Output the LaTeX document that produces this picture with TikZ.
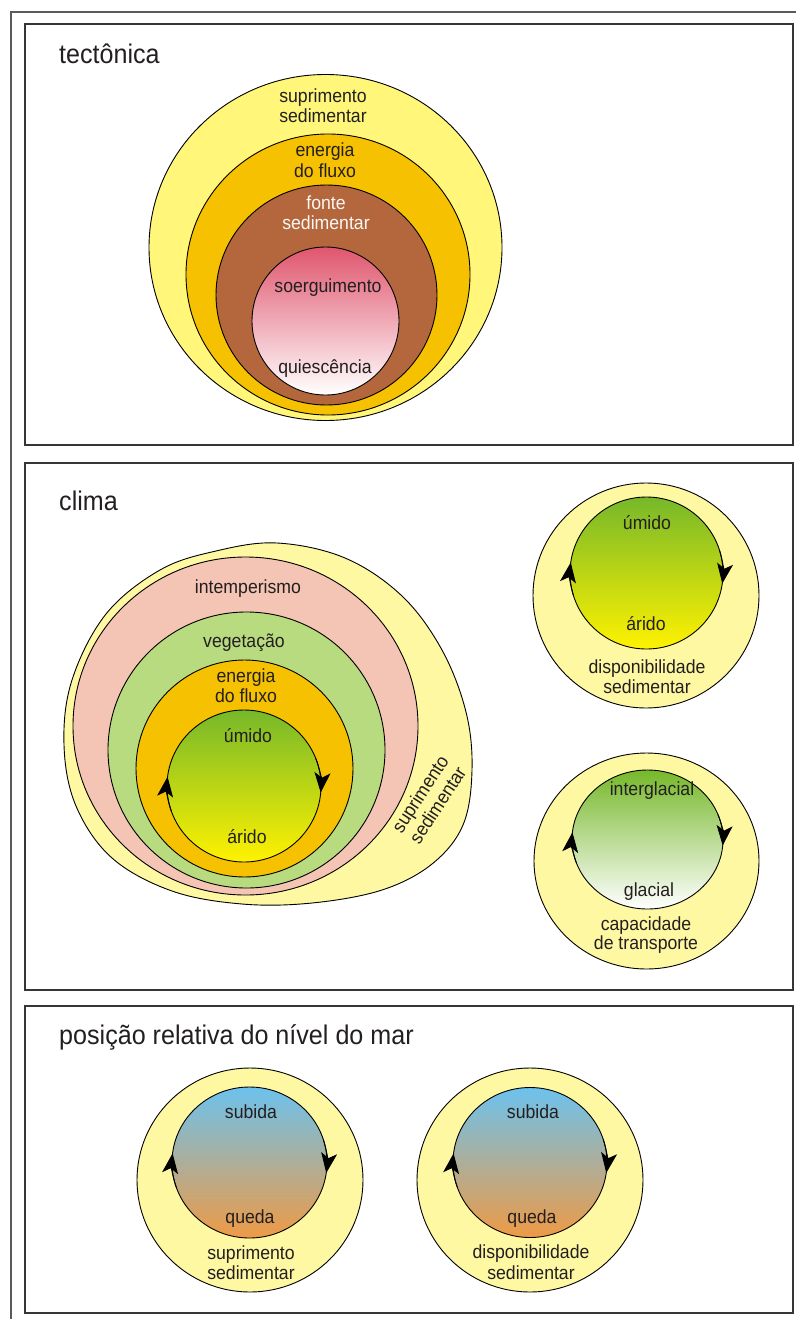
\documentclass[tikz,border=0pt]{standalone}
\usepackage{fontspec}
\setmainfont{Liberation Sans}[FakeStretch=0.93]
\usetikzlibrary{arrows.meta,calc}

\definecolor{ink}{HTML}{231F20}
\definecolor{frame}{HTML}{5A5A5A}
\definecolor{yelA}{HTML}{FFF67A}
\definecolor{yelB}{HTML}{FFF8A2}
\definecolor{flow}{HTML}{F6C100}
\definecolor{source}{HTML}{B4673C}
\definecolor{uplift}{HTML}{E0566E}
\definecolor{weather}{HTML}{F4C4B4}
\definecolor{veg}{HTML}{B8DB80}
\definecolor{wet}{HTML}{76B82A}
\definecolor{dry}{HTML}{FFF200}
\definecolor{rise}{HTML}{6CC2EE}
\definecolor{midsea}{HTML}{BCAA88}
\definecolor{fall}{HTML}{EE9A45}

% two arrow tips riding on a cycle ellipse: #1 centre, #2/#3 radii,
% #4 / #5 screen angles where the left / right tips end
\newcommand\cyclearrows[5]{%
  \draw[cyc] (#1) ++({-(#4+26)}:#2 and #3)
    arc[start angle={-(#4+26)}, end angle={-(#4)}, x radius=#2, y radius=#3];
  \draw[cyc] (#1) ++({-(#5+26)}:#2 and #3)
    arc[start angle={-(#5+26)}, end angle={-(#5)}, x radius=#2, y radius=#3];
}

\begin{document}
\begin{tikzpicture}[x=1pt,y=-1pt,
  panel/.style={draw=ink!90, line width=1.7pt},
  ring/.style={draw=black, line width=0.9pt},
  cyc/.style={draw=black, line width=0.9pt,
    arrows={-Stealth[length=20pt, width=16pt, inset=5pt]}},
  lbl/.style={font=\fontsize{19}{20}\selectfont, text=ink, anchor=base, inner sep=0pt},
  title/.style={font=\fontsize{27}{30}\selectfont, text=ink, anchor=base west, inner sep=0pt}]
\useasboundingbox (0,0) rectangle (796,1319);

% outer frame and the three panels
\draw[draw=frame, line width=1.5pt] (11,1319) -- (11,12) -- (796,12);
\draw[panel] (25,24) rectangle (793,445);
\draw[panel] (25,463) rectangle (793,990);
\draw[panel] (25,1006) rectangle (793,1313);

% ---------------- tectonics ----------------
\node[title] (tTec) at (59,64) {tectônica};
\draw[ring, fill=yelA] (325.5,247.5) ellipse [x radius=176.5, y radius=173];
\draw[ring, fill=flow] (328,274.5) ellipse [x radius=142, y radius=140.5];
\draw[ring, fill=source] (326.5,295) ellipse [x radius=110.5, y radius=110];
\shadedraw[ring, top color=uplift, bottom color=white] (325.5,321) ellipse [x radius=73.5, y radius=74];
\node[lbl] (a1) at (323,103) {suprimento};
\node[lbl] (a2) at (323,123) {sedimentar};
\node[lbl] (b1) at (325,157) {energia};
\node[lbl] (b2) at (325,177) {do fluxo};
\node[lbl, text=white!95!source] (c1) at (326,209) {fonte};
\node[lbl, text=white!95!source] (c2) at (326,229) {sedimentar};
\node[lbl] (d1) at (328,292) {soerguimento};
\node[lbl] (d2) at (325,373) {quiescência};

% ---------------- climate ----------------
\node[title] (tCli) at (59,510) {clima};
\draw[ring, fill=yelB] plot[smooth cycle, tension=0.6] coordinates {
  (277,543) (345,558) (402,596) (442,650) (466,712) (472,770) (463,825)
  (432,864) (382,890) (312,903) (242,904) (172,891) (112,858) (76,806)
  (64,745) (72,680) (106,614) (160,570) (216,551)};
\draw[ring, fill=weather] (245.5,726) ellipse [x radius=172.5, y radius=169];
\draw[ring, fill=veg] (246.5,750) ellipse [x radius=138.5, y radius=138];
\draw[ring, fill=flow] (244.5,768.5) ellipse [x radius=108.5, y radius=108.5];
\coordinate (cBig) at (244,786);
\shadedraw[ring, top color=wet, bottom color=dry] (cBig) ellipse [x radius=77, y radius=76];
\cyclearrows{cBig}{77}{76}{173}{-5}
\node[lbl] (e1) at (248,593) {intemperismo};
\node[lbl] (e2) at (244,647) {vegetação};
\node[lbl] (e3) at (246,682) {energia};
\node[lbl] (e4) at (246,702) {do fluxo};
\node[lbl] (e5) at (248,742) {úmido};
\node[lbl] (e6) at (247,843) {árido};
\node[lbl, anchor=center, rotate=57] (e7) at (421.5,795) {suprimento};
\node[lbl, anchor=center, rotate=57] (e8) at (437.5,805) {sedimentar};

% availability circle
\draw[ring, fill=yelB] (646,595.5) ellipse [x radius=113, y radius=112.5];
\coordinate (cAv) at (646.5,573);
\shadedraw[ring, top color=wet, bottom color=dry] (cAv) ellipse [x radius=76.5, y radius=76];
\cyclearrows{cAv}{76.5}{76}{172}{-8}
\node[lbl] (f1) at (647,529) {úmido};
\node[lbl] (f2) at (646,630) {árido};
\node[lbl] (f3) at (647,673) {disponibilidade};
\node[lbl] (f4) at (647,693) {sedimentar};

% transport capacity circle
\draw[ring, fill=yelB] (646.5,861) ellipse [x radius=112.5, y radius=108];
\coordinate (cTr) at (647.5,839.5);
\shadedraw[ring, top color=wet, bottom color=white] (cTr) ellipse [x radius=75.5, y radius=69.5];
\cyclearrows{cTr}{75.5}{69.5}{174}{-5}
\node[lbl] (g1) at (652,795) {interglacial};
\node[lbl] (g2) at (649,896) {glacial};
\node[lbl] (g3) at (646,930) {capacidade};
\node[lbl] (g4) at (646,949) {de transporte};

% ---------------- relative sea level ----------------
\node[title] (tSea) at (59,1044) {posição relativa do nível do mar};
\draw[ring, fill=yelB] (250,1180) ellipse [x radius=113, y radius=112];
\coordinate (cS1) at (249.5,1162.5);
\shadedraw[ring, top color=rise, middle color=midsea, bottom color=fall] (cS1) ellipse [x radius=77.5, y radius=75.5];
\cyclearrows{cS1}{77.5}{75.5}{173}{-8}
\node[lbl] (h1) at (251,1118) {subida};
\node[lbl] (h2) at (250,1223) {queda};
\node[lbl] (h3) at (251,1259) {suprimento};
\node[lbl] (h4) at (251,1279) {sedimentar};

\draw[ring, fill=yelB] (530,1180) ellipse [x radius=113, y radius=112];
\coordinate (cS2) at (530,1162.5);
\shadedraw[ring, top color=rise, middle color=midsea, bottom color=fall] (cS2) ellipse [x radius=77, y radius=75];
\cyclearrows{cS2}{77}{75}{173}{-8}
\node[lbl] (k1) at (533,1118) {subida};
\node[lbl] (k2) at (532,1223) {queda};
\node[lbl] (k3) at (531,1258) {disponibilidade};
\node[lbl] (k4) at (531,1279) {sedimentar};
\end{tikzpicture}
\end{document}
